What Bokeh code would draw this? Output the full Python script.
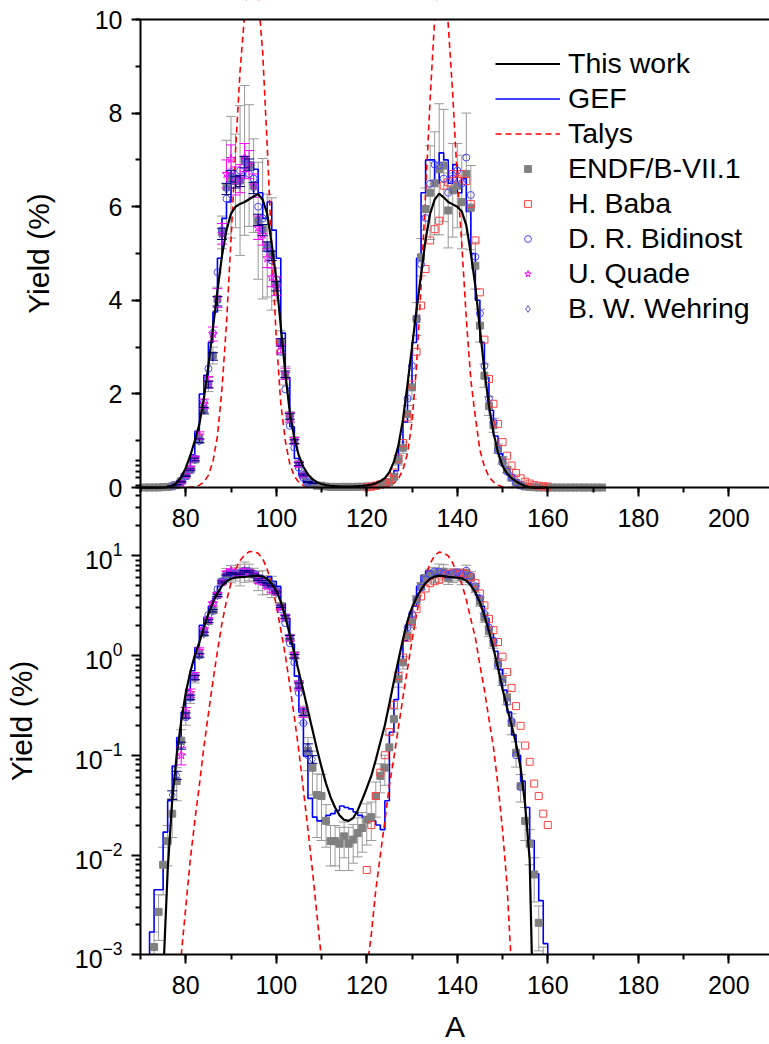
from bokeh.plotting import figure
from bokeh.models import (Range1d, LogScale, LinearAxis, LogAxis, SingleIntervalTicker,
                          FixedTicker, Legend, LegendItem, Whisker, TeeHead,
                          ColumnDataSource, BoxAnnotation)
from bokeh.embed import file_html
from bokeh.resources import INLINE

FONT = "Liberation Sans"

# ---------------- data ----------------
A_work = [70, 73, 74, 75, 76, 77, 78, 79, 80, 81, 82, 83, 84, 85, 86, 87, 88, 89, 90,
          91, 92, 93, 94, 95, 96, 97, 98, 99, 100, 101, 102, 103, 104, 105, 106, 107, 108, 109, 110,
          111, 112, 113, 114, 115, 116, 117, 118, 119, 120, 121, 122, 123, 124, 125, 126, 127, 128, 129, 130,
          131, 132, 133, 134, 135, 136, 137, 138, 139, 140, 141, 142, 143, 144, 145, 146, 147, 148, 149, 150,
          151, 152, 153, 154, 155, 156, 156.5, 157, 160]
Y_work = [1e-6, 1e-5, 0.0001, 0.0006, 0.007, 0.035, 0.10, 0.22, 0.42, 0.68, 1.0, 1.35, 1.9, 2.6, 3.4, 4.2, 4.95, 5.5, 5.85,
          6.0, 6.06, 6.1, 6.16, 6.22, 6.27, 6.15, 5.85, 5.2, 4.45, 3.45, 2.45, 1.6, 1.05, 0.68, 0.44, 0.28, 0.18, 0.115, 0.076,
          0.052, 0.038, 0.030, 0.025, 0.0225, 0.022, 0.0235, 0.028, 0.036, 0.047, 0.062, 0.09, 0.135, 0.20, 0.33, 0.55, 0.9, 1.45, 2.2, 3.0,
          3.8, 4.55, 5.3, 5.85, 6.15, 6.28, 6.2, 6.1, 6.05, 6.0, 5.9, 5.6, 5.0, 4.3, 3.4, 2.5, 1.75, 1.17, 0.75, 0.46,
          0.30, 0.20, 0.13, 0.075, 0.032, 0.009, 0.0009, 0.0001, 1e-6]

A_gef = list(range(71, 161))
Y_gef = [0.0008, 0.0017, 0.0045, 0.0045, 0.017, 0.035, 0.078, 0.15, 0.27, 0.45,
         0.7, 1.2, 2.0, 2.4, 3.1, 3.75, 4.9, 5.75, 6.1, 6.7,
         6.65, 6.6, 7.0, 6.95, 6.8, 6.3, 5.75, 6.1, 5.5, 4.9,
         3.3, 2.35, 1.3, 0.62, 0.27, 0.098, 0.037, 0.024, 0.022, 0.022,
         0.025, 0.026, 0.028, 0.031, 0.030, 0.029, 0.027, 0.025, 0.024, 0.022,
         0.022, 0.020, 0.018, 0.035, 0.17, 0.36, 0.85, 1.4, 2.1, 3.1,
         4.9, 6.3, 7.0, 7.0, 6.5, 7.15, 7.0, 6.5, 6.9, 6.3,
         6.6, 5.9, 5.0, 4.0, 3.1, 2.35, 1.65, 1.1, 0.72, 0.45,
         0.27, 0.16, 0.1, 0.055, 0.03, 0.014, 0.0065, 0.0035, 0.0013, 0.0005]

A_talys = [76, 78, 79, 80, 81, 82, 83, 84, 85, 86, 87, 88, 89, 90, 91, 92, 93, 94, 95, 96,
           97, 98, 99, 100, 101, 102, 103, 104, 105, 106, 107, 108, 109, 110, 112, 115, 118, 120, 121, 122,
           123, 124, 125, 126, 127, 128, 129, 130, 131, 132, 133, 134, 135, 136, 137, 138, 139, 140, 141, 142,
           143, 144, 145, 146, 147, 148, 149, 150, 151, 152, 154]
Y_talys = [1e-5, 0.0002, 0.001, 0.003, 0.009, 0.022, 0.05, 0.12, 0.26, 0.55, 1.1, 2.1, 3.5, 5.3, 7.2, 8.9, 10.1, 10.9, 11.0, 10.5,
           9.3, 7.3, 5.1, 3.2, 1.8, 1.0, 0.5, 0.24, 0.11, 0.045, 0.018, 0.007, 0.0025, 0.0009, 0.00005, 1e-6, 0.00003, 0.0007, 0.0016, 0.0045,
           0.010, 0.022, 0.05, 0.095, 0.19, 0.38, 0.73, 1.4, 2.6, 4.3, 6.3, 8.3, 10.0, 10.8, 10.6, 9.9, 8.4, 6.6, 5.2, 3.6,
           2.3, 1.5, 0.8, 0.45, 0.23, 0.12, 0.05, 0.018, 0.005, 0.0007, 0.00001]

A_endf = list(range(71, 173))
Y_endf = [0.0005, 0.0007, 0.0012, 0.0027, 0.008,
          0.0138, 0.026, 0.055, 0.14, 0.25, 0.38, 0.6, 1.04, 1.68, 2.2,
          2.82, 4.03, 5.45, 6.42, 6.63, 6.55, 6.56, 6.99, 6.88, 6.45,
          5.7, 5.53, 5.17, 4.99, 4.34, 3.1, 2.39, 1.5, 1.0, 0.5,
          0.26, 0.11, 0.075, 0.04, 0.039, 0.022, 0.0138, 0.0138, 0.013, 0.0154,
          0.013, 0.0143, 0.0166, 0.0187, 0.0226, 0.024, 0.039, 0.062, 0.075, 0.12,
          0.23, 0.58, 0.85, 1.57, 2.14, 3.6, 4.92, 5.95, 6.3, 6.5,
          6.8, 6.88, 5.92, 6.35, 6.45, 6.1, 6.7, 5.98, 4.74, 3.46,
          2.39, 1.74, 1.33, 0.83, 0.58, 0.38, 0.21, 0.106, 0.049, 0.022,
          0.013, 0.0064, 0.0021, 0.0008, 0.0004, 0.0002, 0.0001, 0.00005, 0.00003, 0.00002,
          0.00001, 0.000005, 0.000003, 0.000002, 0.000001, 0.0000005, 0.0000002]
E_endf = [0.0002, 0.0003, 0.0005, 0.0013, 0.004,
          0.006, 0.011, 0.02, 0.04, 0.05, 0.05, 0.07, 0.1, 0.12, 0.15,
          0.18, 0.25, 0.35, 1.0, 1.3, 1.0, 1.6, 1.6, 1.3, 1.0,
          1.25, 1.5, 1.1, 1.2, 0.35, 0.25, 0.2, 0.12, 0.08, 0.06,
          0.05, 0.04, 0.035, 0.025, 0.025, 0.01, 0.006, 0.006, 0.006, 0.006,
          0.006, 0.006, 0.007, 0.008, 0.01, 0.01, 0.015, 0.02, 0.025, 0.04,
          0.06, 0.1, 0.12, 0.18, 0.25, 0.35, 0.4, 0.45, 1.0, 1.1,
          1.4, 1.2, 0.8, 1.0, 0.9, 1.0, 1.3, 0.9, 0.5, 0.35,
          0.25, 0.2, 0.15, 0.1, 0.08, 0.06, 0.05, 0.03, 0.015, 0.008,
          0.005, 0.003, 0.001, 0.0004, 0, 0, 0, 0, 0, 0,
          0, 0, 0, 0, 0, 0, 0]

A_baba = list(range(120, 161))
Y_baba = [0.0071, 0.020, 0.039, 0.067, 0.10, 0.17, 0.32, 0.62, 0.95, 1.5,
          2.2, 2.9, 3.89, 4.67, 5.28, 5.52, 5.7, 6.45, 6.52, 6.7,
          6.6, 6.7, 6.55, 6.06, 5.28, 4.17, 3.16, 2.32, 1.79, 1.36,
          0.97, 0.68, 0.47, 0.31, 0.197, 0.125, 0.086, 0.052, 0.039, 0.026, 0.020]

A_bid = list(range(80, 108)) + list(range(129, 155))
Y_bid = [0.24, 0.38, 0.62, 1.0, 1.82, 2.54, 3.3, 4.6, 5.5, 6.17,
         6.74, 6.6, 6.77, 7.02, 6.7, 6.6, 6.0, 5.75, 5.1, 4.85,
         4.45, 2.9, 2.1, 1.32, 0.85, 0.42, 0.21, 0.1,
         1.9, 2.6, 3.6, 4.77, 5.76, 6.49, 6.9, 6.88, 6.6, 6.3,
         6.6, 6.77, 6.5, 7.05, 6.25, 4.93, 3.72, 2.6, 1.9, 1.4,
         0.79, 0.53, 0.34, 0.22, 0.1, 0.048]

A_quade = list(range(79, 107))
Y_quade = [0.1, 0.27, 0.42, 0.62, 1.11, 1.79, 2.25, 3.28, 4.05, 5.42,
           6.7, 7.02, 6.55, 6.6, 7.05, 6.9, 6.45, 5.55, 5.4, 4.9,
           4.49, 4.3, 3.03, 2.43, 1.5, 1.0, 0.5, 0.27]
E_quade = [0.02, 0.03, 0.04, 0.05, 0.08, 0.1, 0.12, 0.15, 0.2, 0.22,
           0.3, 0.3, 0.3, 0.3, 0.3, 0.3, 0.25, 0.25, 0.22, 0.2,
           0.2, 0.2, 0.15, 0.12, 0.1, 0.07, 0.05, 0.03]

A_wehr = list(range(77, 109))
Y_wehr = [0.04, 0.063, 0.125, 0.25, 0.38, 0.6, 1.0, 1.65, 2.2, 2.8,
          3.98, 5.42, 6.38, 6.65, 6.52, 6.55, 6.95, 6.9, 6.4, 5.72,
          5.5, 5.15, 4.95, 4.3, 3.1, 2.42, 1.52, 0.98, 0.5, 0.27,
          0.12, 0.091]
E_wehr = [0.004, 0.006, 0.01, 0.015, 0.02, 0.03, 0.04, 0.06, 0.07, 0.08,
          0.1, 0.12, 0.12, 0.12, 0.12, 0.12, 0.12, 0.12, 0.12, 0.12,
          0.12, 0.1, 0.1, 0.1, 0.08, 0.07, 0.06, 0.04, 0.03, 0.02,
          0.01, 0.008]

LOG_TICKS = [1e-3, 1e-2, 1e-1, 1e0, 1e1]
X_MIN, X_MAX = 70, 209.0
LIN_TOP, LOG_BOTTOM = 10, 1e-3

# ---------------- figure ----------------
# One frame covers the whole canvas; the top (linear) panel uses the default
# y range and the bottom (log) panel uses the "log" range.
p = figure(width=769, height=1044, output_backend="svg", toolbar_location=None,
           x_range=Range1d(39.06, X_MAX), y_range=Range1d(-11.90, 10.406),
           x_axis_type=None, y_axis_type=None,
           min_border_left=0, min_border_right=0, min_border_top=0, min_border_bottom=0)
p.extra_y_ranges = {"log": Range1d(1.27e-4, 3.6e6)}
p.extra_y_scales = {"log": LogScale()}
p.outline_line_color = None
p.background_fill_color = "white"
p.border_fill_color = "white"


def style_axis(ax, standoff):
    ax.axis_line_width = 2
    ax.axis_line_color = "black"
    ax.major_tick_line_width = 2
    ax.minor_tick_line_width = 2
    ax.major_tick_line_color = "black"
    ax.minor_tick_line_color = "black"
    ax.major_tick_in = 0
    ax.major_tick_out = 9
    ax.minor_tick_in = 0
    ax.minor_tick_out = 5
    ax.major_label_standoff = standoff
    ax.major_label_text_font = FONT
    ax.major_label_text_font_size = "25px"
    ax.major_label_text_color = "black"
    ax.axis_label_text_font = FONT
    ax.axis_label_text_font_size = "30px"
    ax.axis_label_text_font_style = "normal"
    ax.axis_label_text_color = "black"


def whisk(xs, ys, es, rn, color, floor):
    xx, lo, hi = [], [], []
    for a, v, e in zip(xs, ys, es):
        if e > 0:
            xx.append(a)
            lo.append(max(v - e, floor))
            hi.append(v + e)
    src = ColumnDataSource(dict(x=xx, lo=lo, hi=hi))
    return Whisker(source=src, base="x", lower="lo", upper="hi", dimension="height",
                   y_range_name=rn, line_color=color, line_width=1, level="glyph",
                   upper_head=TeeHead(size=10, line_color=color, line_width=1),
                   lower_head=TeeHead(size=10, line_color=color, line_width=1))


legend_r = {}
for rn, floor in (("default", 0.0), ("log", 1e-6)):
    p.renderers.append(whisk(A_endf, Y_endf, E_endf, rn, "#9a9a9a", floor))
    r_gef = p.step(A_gef, Y_gef, mode="after", line_color="#0000ff", line_width=1.6, y_range_name=rn)
    r_tal = p.line(A_talys, Y_talys, line_color="#ff0000", line_width=1.6, line_dash="6 4", y_range_name=rn)
    r_endf = p.scatter(A_endf, Y_endf, marker="square", size=7, fill_color="#808080",
                       line_color="#808080", y_range_name=rn)
    r_baba = p.scatter(A_baba, Y_baba, marker="square", size=7, fill_color=None,
                       line_color="#ff4040", line_width=1, y_range_name=rn)
    r_bid = p.scatter(A_bid, Y_bid, marker="circle", size=7, fill_color=None,
                      line_color="#4848ff", line_width=1, y_range_name=rn)
    r_qua = p.scatter(A_quade, Y_quade, marker="star", size=9, fill_color=None,
                      line_color="#ff00ff", line_width=1, y_range_name=rn)
    p.renderers.append(whisk(A_quade, Y_quade, E_quade, rn, "#ff00ff", floor))
    r_weh = p.scatter(A_wehr, Y_wehr, marker="diamond", size=9, fill_color=None,
                      line_color="#5a5ad0", line_width=1, y_range_name=rn)
    p.renderers.append(whisk(A_wehr, Y_wehr, E_wehr, rn, "#000080", floor))
    r_work = p.line(A_work, Y_work, line_color="black", line_width=2.2, y_range_name=rn)
    if rn == "default":
        legend_r = dict(work=r_work, gef=r_gef, tal=r_tal, endf=r_endf, baba=r_baba,
                        bid=r_bid, qua=r_qua, weh=r_weh)

# white masks (drawn after the data glyphs, below the axes): above the linear
# panel's top (y > 10) and below the log panel's bottom (y < 1e-3)
mask_top = BoxAnnotation(bottom=LIN_TOP, top=LIN_TOP + 2, fill_color="white", fill_alpha=1.0,
                         line_color=None, level="glyph")
mask_bot = BoxAnnotation(top=LOG_BOTTOM, bottom=1e-6, y_range_name="log", fill_color="white",
                         fill_alpha=1.0, line_color=None, level="glyph")
p.renderers.append(mask_top)
p.renderers.append(mask_bot)

# bottom axis (log panel)
xb = LinearAxis(y_range_name="log", fixed_location=LOG_BOTTOM, bounds=(X_MIN, X_MAX),
                ticker=SingleIntervalTicker(interval=20, num_minor_ticks=2), axis_label="A")
style_axis(xb, 12)
xb.axis_label_standoff = 13
p.add_layout(xb, "below")

# x axis of the top panel, drawn at y = 0
xt = LinearAxis(fixed_location=0, bounds=(X_MIN, X_MAX),
                ticker=SingleIntervalTicker(interval=20, num_minor_ticks=2))
style_axis(xt, 12)
p.add_layout(xt, "below")

# top border line of the top panel
xtop = LinearAxis(fixed_location=LIN_TOP, bounds=(X_MIN, X_MAX),
                  ticker=FixedTicker(ticks=[], minor_ticks=[]))
style_axis(xtop, 5)
p.add_layout(xtop, "above")

yl = LinearAxis(fixed_location=X_MIN, bounds=(0, LIN_TOP),
                ticker=SingleIntervalTicker(interval=2, num_minor_ticks=2), axis_label="Yield (%)")
style_axis(yl, 9)
yl.axis_label_standoff = 37
p.add_layout(yl, "left")

minor = [k * t for t in LOG_TICKS for k in range(2, 10)]
yg = LogAxis(y_range_name="log", fixed_location=X_MIN, bounds=(LOG_BOTTOM, 48.4),
             ticker=FixedTicker(ticks=LOG_TICKS, minor_ticks=minor), axis_label="Yield (%)")
style_axis(yg, 9)
yg.axis_label_standoff = 34
p.add_layout(yg, "left")

items = [
    LegendItem(label="This work", renderers=[legend_r["work"]]),
    LegendItem(label="GEF", renderers=[legend_r["gef"]]),
    LegendItem(label="Talys", renderers=[legend_r["tal"]]),
    LegendItem(label="ENDF/B-VII.1", renderers=[legend_r["endf"]]),
    LegendItem(label="H. Baba", renderers=[legend_r["baba"]]),
    LegendItem(label="D. R. Bidinost", renderers=[legend_r["bid"]]),
    LegendItem(label="U. Quade", renderers=[legend_r["qua"]]),
    LegendItem(label="B. W. Wehring", renderers=[legend_r["weh"]]),
]
legend = Legend(items=items, location=(495, 718), orientation="vertical",
                glyph_width=65, glyph_height=17, label_height=35, spacing=0,
                padding=0, margin=0, label_standoff=8, border_line_color=None,
                background_fill_alpha=0, label_text_font=FONT, label_text_font_size="28.5px",
                label_text_color="black")
p.add_layout(legend)

open("out.html", "w").write(file_html(p, INLINE))
